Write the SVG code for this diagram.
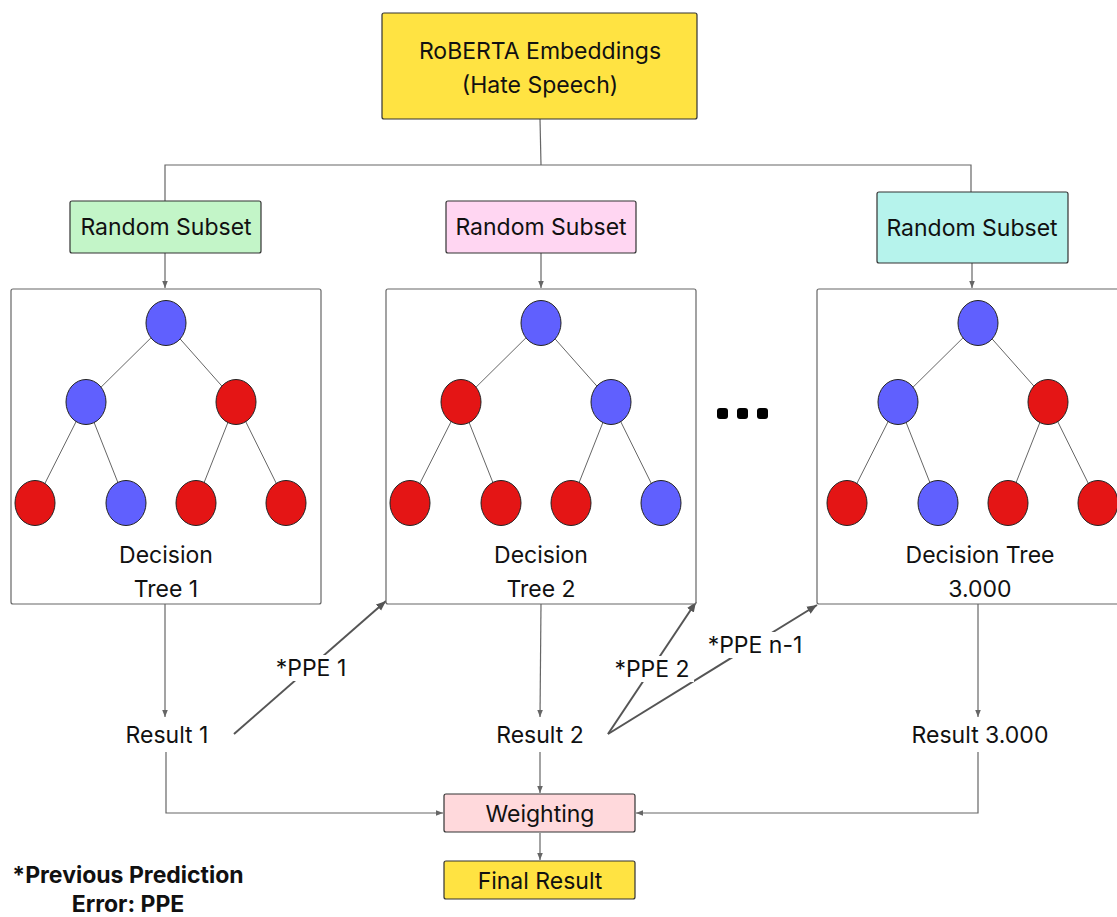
<svg xmlns="http://www.w3.org/2000/svg" width="1117" height="917" viewBox="0 0 1117 917">
<style>
text{font-family:Inter,"Noto Sans","Liberation Sans",sans-serif;font-size:23px;fill:#111;text-anchor:middle;dominant-baseline:central}
.box{stroke:#333;stroke-width:1.2}
.tbox{fill:#fff;stroke:#666;stroke-width:1.2}
.c{stroke:#666;stroke-width:1.2;fill:none}
.p{stroke:#555;stroke-width:2;fill:none}
.e{stroke:#666;stroke-width:1}
.b{fill:#6060fe;stroke:#222;stroke-width:1}
.r{fill:#e41515;stroke:#222;stroke-width:1}
.bold{font-weight:700}
</style>
<defs>
<marker id="a" viewBox="0 0 10 10" refX="10" refY="5" markerWidth="7" markerHeight="7" orient="auto-start-reverse" markerUnits="userSpaceOnUse"><path d="M0,1 L10,5 L0,9 z" fill="#666"/></marker>
<marker id="a2" viewBox="0 0 10 10" refX="10" refY="5" markerWidth="10" markerHeight="10" orient="auto" markerUnits="userSpaceOnUse"><path d="M0,1 L10,5 L0,9 z" fill="#555"/></marker>
<g id="tree">
<line class="e" x1="0" y1="0" x2="-80" y2="79"/>
<line class="e" x1="0" y1="0" x2="70" y2="79"/>
<line class="e" x1="-80" y1="79" x2="-131" y2="180"/>
<line class="e" x1="-80" y1="79" x2="-40" y2="180"/>
<line class="e" x1="70" y1="79" x2="30" y2="180"/>
<line class="e" x1="70" y1="79" x2="120" y2="180"/>
</g>
</defs>
<g id="connectors">
<polyline class="c" points="540,119 541,165"/>
<polyline class="c" points="165,201 165,165 971,165 971,192"/>
<line class="c" x1="165" y1="253" x2="165" y2="288" marker-end="url(#a)"/>
<line class="c" x1="541" y1="253" x2="541" y2="288" marker-end="url(#a)"/>
<line class="c" x1="972" y1="263" x2="972" y2="288" marker-end="url(#a)"/>
<line class="c" x1="165" y1="604" x2="165" y2="717" marker-end="url(#a)"/>
<line class="c" x1="541" y1="604" x2="540" y2="717" marker-end="url(#a)"/>
<line class="c" x1="978" y1="604" x2="978" y2="717" marker-end="url(#a)"/>
<polyline class="c" points="166,752 166,813 443,813" marker-end="url(#a)"/>
<polyline class="c" points="978,752 978,813 636,813" marker-end="url(#a)"/>
<line class="c" x1="540" y1="752" x2="540" y2="793" marker-end="url(#a)"/>
<line class="c" x1="540" y1="833" x2="540" y2="860" marker-end="url(#a)"/>
<line class="p" x1="234" y1="734" x2="386" y2="601" marker-end="url(#a2)"/>
<line class="p" x1="608" y1="734" x2="696" y2="602" marker-end="url(#a2)"/>
<line class="p" x1="608" y1="734" x2="817" y2="605" marker-end="url(#a2)"/>
<rect x="270" y="655" width="82" height="26" fill="#fff"/>
<text x="311" y="668">*PPE 1</text>
<rect x="610" y="656" width="84" height="26" fill="#fff"/>
<text x="652" y="669">*PPE 2</text>
<rect x="702" y="632" width="106" height="26" fill="#fff"/>
<text x="755" y="645">*PPE n-1</text>
</g>
<g id="roberta">
<rect class="box" x="382" y="13" width="315" height="106" rx="2" fill="#ffe342"/>
<text x="540" y="51">RoBERTA Embeddings</text>
<text x="540" y="85">(Hate Speech)</text>
</g>
<g id="subset1">
<rect class="box" x="70" y="201" width="191" height="52" rx="2" fill="#c3f5c8"/>
<text x="166" y="227">Random Subset</text>
</g>
<g id="subset2">
<rect class="box" x="446" y="201" width="190" height="52" rx="2" fill="#ffd6f2"/>
<text x="541" y="227">Random Subset</text>
</g>
<g id="subset3">
<rect class="box" x="877" y="192" width="191" height="71" rx="2" fill="#b6f3ec"/>
<text x="972" y="228">Random Subset</text>
</g>
<g id="tree1">
<rect class="tbox" x="11" y="289" width="310" height="315" rx="2"/>
<use href="#tree" x="166" y="323"/>
<ellipse class="b" cx="166" cy="323" rx="20" ry="22.5"/>
<ellipse class="b" cx="86" cy="402" rx="20" ry="22.5"/>
<ellipse class="r" cx="236" cy="402" rx="20" ry="22.5"/>
<ellipse class="r" cx="35" cy="503" rx="20" ry="22.5"/>
<ellipse class="b" cx="126" cy="503" rx="20" ry="22.5"/>
<ellipse class="r" cx="196" cy="503" rx="20" ry="22.5"/>
<ellipse class="r" cx="286" cy="503" rx="20" ry="22.5"/>
<text x="166" y="555">Decision</text>
<text x="166" y="589">Tree 1</text>
</g>
<g id="tree2">
<rect class="tbox" x="386" y="289" width="310" height="315" rx="2"/>
<use href="#tree" x="541" y="323"/>
<ellipse class="b" cx="541" cy="323" rx="20" ry="22.5"/>
<ellipse class="r" cx="461" cy="402" rx="20" ry="22.5"/>
<ellipse class="b" cx="611" cy="402" rx="20" ry="22.5"/>
<ellipse class="r" cx="410" cy="503" rx="20" ry="22.5"/>
<ellipse class="r" cx="501" cy="503" rx="20" ry="22.5"/>
<ellipse class="r" cx="571" cy="503" rx="20" ry="22.5"/>
<ellipse class="b" cx="661" cy="503" rx="20" ry="22.5"/>
<text x="541" y="555">Decision</text>
<text x="541" y="589">Tree 2</text>
</g>
<g id="dots">
<rect x="717" y="408" width="11" height="11" rx="3" fill="#000"/>
<rect x="737" y="408" width="11" height="11" rx="3" fill="#000"/>
<rect x="757" y="408" width="11" height="11" rx="3" fill="#000"/>
</g>
<g id="tree3">
<rect class="tbox" x="817" y="289" width="310" height="315" rx="2"/>
<use href="#tree" x="978" y="323"/>
<ellipse class="b" cx="978" cy="323" rx="20" ry="22.5"/>
<ellipse class="b" cx="898" cy="402" rx="20" ry="22.5"/>
<ellipse class="r" cx="1048" cy="402" rx="20" ry="22.5"/>
<ellipse class="r" cx="847" cy="503" rx="20" ry="22.5"/>
<ellipse class="b" cx="938" cy="503" rx="20" ry="22.5"/>
<ellipse class="r" cx="1008" cy="503" rx="20" ry="22.5"/>
<ellipse class="r" cx="1098" cy="503" rx="20" ry="22.5"/>
<text x="980" y="555">Decision Tree</text>
<text x="980" y="589">3.000</text>
</g>
<g id="result1"><text x="167" y="735">Result 1</text></g>
<g id="result2"><text x="540" y="735">Result 2</text></g>
<g id="result3"><text x="980" y="735">Result 3.000</text></g>
<g id="weighting">
<rect class="box" x="444" y="794" width="191" height="38" rx="2" fill="#ffd9dc"/>
<text x="540" y="814">Weighting</text>
</g>
<g id="final">
<rect class="box" x="444" y="861" width="191" height="38" rx="2" fill="#ffe342"/>
<text x="540" y="881">Final Result</text>
</g>
<g id="legend">
<text class="bold" x="128" y="875">*Previous Prediction</text>
<text class="bold" x="128" y="904">Error: PPE</text>
</g>
</svg>
